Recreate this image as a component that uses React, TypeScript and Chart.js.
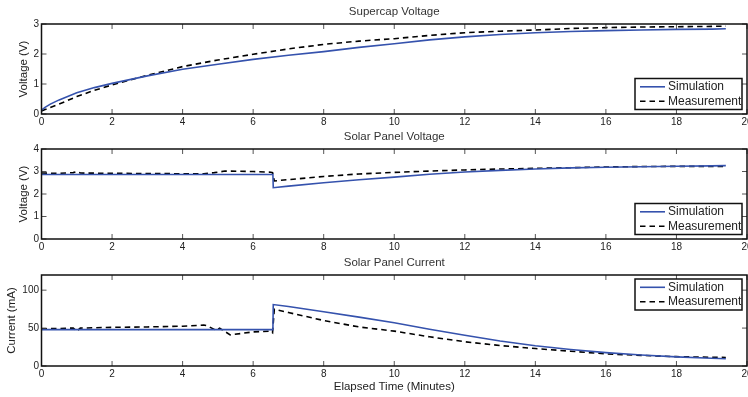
import React, { useEffect, useRef } from "react";
import { Chart, registerables } from "chart.js";

Chart.register(...registerables);

// ---------- data ----------
const xTicks = [0, 2, 4, 6, 8, 10, 12, 14, 16, 18, 20];
const supercapYTicks = [0, 1, 2, 3];
const panelVYTicks = [0, 1, 2, 3, 4];
const currentYTicks = [0, 50, 100];

const timeSupercap = [0, 0.1, 0.25, 0.5, 1, 1.5, 2, 3, 4, 5, 6, 7, 8, 9, 10, 11, 12, 13, 14, 15, 16, 17, 18, 19, 19.4];
const simSupercap = [0.13, 0.22, 0.33, 0.47, 0.71, 0.88, 1.02, 1.27, 1.49, 1.66, 1.82, 1.96, 2.08, 2.22, 2.34, 2.47, 2.57, 2.65, 2.71, 2.75, 2.78, 2.8, 2.82, 2.83, 2.84];
const measSupercap = [0.1, 0.15, 0.22, 0.33, 0.58, 0.79, 0.97, 1.29, 1.58, 1.8, 1.99, 2.17, 2.32, 2.43, 2.51, 2.62, 2.71, 2.76, 2.8, 2.85, 2.88, 2.9, 2.91, 2.92, 2.93];

const timeSimPanelV = [0, 6.56, 6.57, 7, 8, 9, 10, 11, 12, 13, 14, 15, 16, 17, 18, 19, 19.4];
const simPanelV = [2.87, 2.87, 2.28, 2.35, 2.5, 2.63, 2.75, 2.88, 2.98, 3.05, 3.11, 3.16, 3.19, 3.21, 3.23, 3.25, 3.26];
const timeMeasPanelV = [0, 0.5, 0.9, 1.0, 1.1, 2, 3, 4, 4.6, 4.9, 5.2, 6, 6.5, 6.55, 6.6, 7, 8, 9, 10, 11, 12, 13, 14, 15, 16, 17, 18, 19, 19.4];
const measPanelV = [2.93, 2.92, 2.95, 3.0, 2.93, 2.92, 2.91, 2.9, 2.9, 2.95, 3.02, 3.0, 2.97, 2.95, 2.58, 2.64, 2.78, 2.89, 2.96, 3.02, 3.07, 3.11, 3.14, 3.17, 3.2, 3.22, 3.23, 3.23, 3.23];

const timeSimCurrent = [0, 6.56, 6.57, 7, 8, 9, 10, 11, 12, 13, 14, 15, 16, 17, 18, 19, 19.4];
const simCurrent = [48, 48, 81, 78.5, 71.5, 64.5, 57, 48.5, 40.5, 33, 26.8, 21.7, 17.6, 14.5, 12, 10.2, 9.5];
const timeMeasCurrent = [0, 0.5, 0.9, 1.0, 1.1, 2, 3, 4, 4.6, 4.7, 4.95, 5.05, 5.35, 6, 6.5, 6.55, 6.6, 7, 8, 9, 10, 11, 12, 13, 14, 15, 16, 17, 18, 19, 19.4];
const measCurrent = [49, 49.5, 50, 46, 50, 51, 51.5, 52.5, 54, 53, 47, 50, 41, 45, 46, 44, 75, 70.5, 60, 51.5, 46, 38.5, 32, 27, 23, 19.5, 16, 14, 12.3, 11.5, 11.3];

const seriesLabels = ["Simulation", "Measurement"];

// ---------- style ----------
const FONT = "'Liberation Sans', Arial, Helvetica, sans-serif";
const BLUE = "#3552ad";
const TEXT = "#222";

function pts(xs: number[], ys: number[]) {
  return xs.map((x, i) => ({ x, y: ys[i] }));
}

const boxPlugin = {
  id: "matlabBox",
  afterDraw(chart: any, _args: any, opts: any) {
    const { ctx, chartArea: a, scales } = chart;
    ctx.save();
    const L = 5;
    ctx.strokeStyle = "#555";
    ctx.lineWidth = 1;
    scales.x.ticks.forEach((t: any) => {
      const px = scales.x.getPixelForValue(t.value);
      ctx.beginPath();
      ctx.moveTo(px, a.bottom);
      ctx.lineTo(px, a.bottom - L);
      ctx.moveTo(px, a.top);
      ctx.lineTo(px, a.top + L);
      ctx.stroke();
    });
    scales.y.ticks.forEach((t: any) => {
      const py = scales.y.getPixelForValue(t.value);
      ctx.beginPath();
      ctx.moveTo(a.left, py);
      ctx.lineTo(a.left + L, py);
      ctx.moveTo(a.right, py);
      ctx.lineTo(a.right - L, py);
      ctx.stroke();
    });
    ctx.strokeStyle = "#111";
    ctx.lineWidth = 1.5;
    ctx.strokeRect(a.left, a.top, a.right - a.left, a.bottom - a.top);

    // legend box
    const w = 107;
    const h = 31;
    const right = a.right - 5;
    const left = right - w;
    const top = opts.where === "top" ? a.top + 4 : a.bottom - 4.5 - h;
    ctx.fillStyle = "#fff";
    ctx.fillRect(left, top, w, h);
    ctx.strokeStyle = "#111";
    ctx.lineWidth = 1.5;
    ctx.strokeRect(left, top, w, h);
    ctx.font = `12px ${FONT}`;
    ctx.textBaseline = "middle";
    ctx.textAlign = "left";
    chart.data.datasets.forEach((ds: any, i: number) => {
      const y = top + 8.3 + i * 14.4;
      ctx.beginPath();
      ctx.strokeStyle = ds.borderColor;
      ctx.lineWidth = ds.borderWidth;
      ctx.setLineDash(ds.borderDash || []);
      ctx.moveTo(left + 5, y);
      ctx.lineTo(left + 30, y);
      ctx.stroke();
      ctx.setLineDash([]);
      ctx.fillStyle = TEXT;
      ctx.fillText(ds.label, left + 33, y);
    });
    ctx.restore();
  },
};

type Cfg = {
  title: string;
  yTitle: string;
  yTitlePad: number;
  yMax: number;
  yTicks: number[];
  sim: { x: number; y: number }[];
  meas: { x: number; y: number }[];
  legend: "top" | "bottom";
  xTitle?: string;
  xHeight: number;
};

function makeConfig(c: Cfg): any {
  return {
    type: "line",
    data: {
      datasets: [
        {
          label: seriesLabels[0],
          data: c.sim,
          borderColor: BLUE,
          borderWidth: 1.6,
          pointRadius: 0,
          tension: 0,
          fill: false,
        },
        {
          label: seriesLabels[1],
          data: c.meas,
          borderColor: "#000",
          borderWidth: 1.6,
          borderDash: [5.5, 4],
          pointRadius: 0,
          tension: 0,
          fill: false,
        },
      ],
    },
    options: {
      animation: false,
      responsive: false,
      maintainAspectRatio: false,
      layout: { padding: { left: 0, right: 13, top: 0, bottom: 0 } },
      plugins: {
        legend: { display: false },
        tooltip: { enabled: false },
        title: {
          display: true,
          text: c.title,
          fullSize: false,
          color: "#333",
          font: { family: FONT, size: 11.5, weight: "normal" },
          padding: { top: 5, bottom: 5.2 },
        },
        matlabBox: { where: c.legend },
      },
      scales: {
        x: {
          type: "linear",
          min: xTicks[0],
          max: xTicks[xTicks.length - 1],
          afterBuildTicks: (s: any) => {
            s.ticks = xTicks.map((v) => ({ value: v }));
          },
          afterFit: (s: any) => {
            s.height = c.xHeight;
          },
          grid: { display: false, drawTicks: false },
          border: { display: false },
          ticks: {
            padding: 2,
            color: TEXT,
            font: { family: FONT, size: 10 },
            maxRotation: 0,
            autoSkip: false,
          },
          title: c.xTitle
            ? {
                display: true,
                text: c.xTitle,
                color: TEXT,
                font: { family: FONT, size: 11.5 },
                padding: { top: 0, bottom: 3.4 },
              }
            : { display: false },
        },
        y: {
          type: "linear",
          min: 0,
          max: c.yMax,
          afterBuildTicks: (s: any) => {
            s.ticks = c.yTicks.map((v) => ({ value: v }));
          },
          afterFit: (s: any) => {
            s.width = 41.5;
          },
          grid: { display: false, drawTicks: false },
          border: { display: false },
          ticks: {
            padding: 2.5,
            color: TEXT,
            font: { family: FONT, size: 10 },
            autoSkip: false,
          },
          title: {
            display: true,
            text: c.yTitle,
            color: TEXT,
            font: { family: FONT, size: 11.5 },
            padding: { top: c.yTitlePad, bottom: 0 },
          },
        },
      },
    },
    plugins: [boxPlugin],
  };
}

function Panel({ cfg, top, height }: { cfg: Cfg; top: number; height: number }) {
  const ref = useRef<HTMLCanvasElement | null>(null);
  useEffect(() => {
    if (!ref.current) return;
    const chart = new Chart(ref.current, makeConfig(cfg));
    return () => chart.destroy();
  }, []);
  return (
    <canvas
      ref={ref}
      width={760}
      height={height}
      style={{ position: "absolute", left: 0, top, width: 760, height }}
    />
  );
}

const panels: { cfg: Cfg; top: number; height: number }[] = [
  {
    top: 0,
    height: 130,
    cfg: {
      title: "Supercap Voltage",
      yTitle: "Voltage (V)",
      yTitlePad: 17,
      yMax: 3,
      yTicks: supercapYTicks,
      sim: pts(timeSupercap, simSupercap),
      meas: pts(timeSupercap, measSupercap),
      legend: "bottom",
      xHeight: 16,
    },
  },
  {
    top: 125,
    height: 130,
    cfg: {
      title: "Solar Panel Voltage",
      yTitle: "Voltage (V)",
      yTitlePad: 17,
      yMax: 4,
      yTicks: panelVYTicks,
      sim: pts(timeSimPanelV, simPanelV),
      meas: pts(timeMeasPanelV, measPanelV),
      legend: "bottom",
      xHeight: 16,
    },
  },
  {
    top: 251,
    height: 146,
    cfg: {
      title: "Solar Panel Current",
      yTitle: "Current (mA)",
      yTitlePad: 5,
      yMax: 120,
      yTicks: currentYTicks,
      sim: pts(timeSimCurrent, simCurrent),
      meas: pts(timeMeasCurrent, measCurrent),
      legend: "top",
      xTitle: "Elapsed Time (Minutes)",
      xHeight: 31,
    },
  },
];

export default function App() {
  return (
    <div
      style={{
        position: "fixed",
        left: 0,
        top: 0,
        width: 760,
        height: 397,
        background: "#fff",
        overflow: "hidden",
      }}
    >
      {panels.map((p, i) => (
        <Panel key={i} cfg={p.cfg} top={p.top} height={p.height} />
      ))}
    </div>
  );
}
